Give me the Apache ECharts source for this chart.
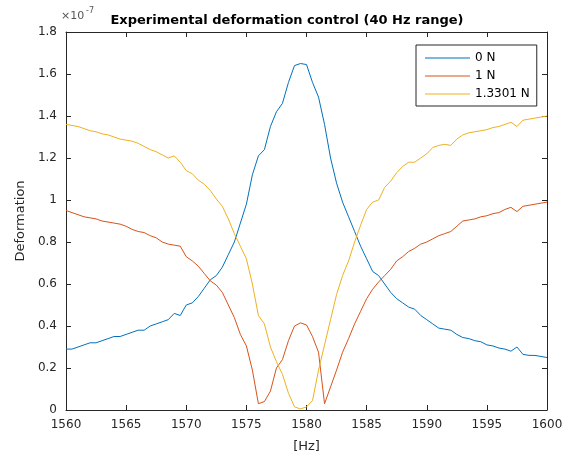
<!DOCTYPE html>
<html>
<head>
<meta charset="utf-8">
<script src="https://cdn.jsdelivr.net/npm/echarts@6/dist/echarts.min.js"></script>
<style>
html,body{margin:0;padding:0;background:#fff;}
#c{width:569px;height:458px;}
</style>
</head>
<body>
<div id="c"></div>
<script>
// Frequency [Hz], 0.5 Hz steps
const freq = [];
for (let k = 0; k <= 80; k++) freq.push(1560 + k * 0.5);

// Deformation values (x 1e-7)
const n0 = [0.29,0.29,0.30,0.31,0.32,0.32,0.33,0.34,0.35,0.35,
  0.36,0.37,0.38,0.38,0.40,0.41,0.42,0.43,0.46,0.45,
  0.50,0.51,0.54,0.58,0.62,0.64,0.68,0.74,0.80,0.89,
  0.98,1.12,1.21,1.24,1.35,1.42,1.46,1.56,1.64,1.65,
  1.645,1.56,1.49,1.36,1.20,1.08,0.99,0.92,0.85,0.78,
  0.72,0.66,0.64,0.60,0.56,0.53,0.51,0.49,0.48,0.45,
  0.43,0.41,0.39,0.385,0.38,0.36,0.345,0.34,0.33,0.325,
  0.31,0.305,0.295,0.29,0.28,0.30,0.265,0.26,0.26,0.255,0.25];

const n1 = [0.95,0.94,0.93,0.92,0.915,0.91,0.90,0.895,0.89,0.885,
  0.875,0.86,0.85,0.845,0.83,0.82,0.80,0.79,0.785,0.78,
  0.73,0.71,0.685,0.65,0.615,0.595,0.56,0.50,0.44,0.36,
  0.305,0.19,0.03,0.04,0.09,0.20,0.24,0.33,0.40,0.415,
  0.405,0.35,0.275,0.03,0.11,0.19,0.275,0.34,0.41,0.47,
  0.53,0.575,0.61,0.64,0.67,0.71,0.73,0.755,0.77,0.79,
  0.80,0.815,0.83,0.84,0.85,0.875,0.90,0.905,0.91,0.92,
  0.925,0.935,0.94,0.955,0.965,0.945,0.97,0.975,0.98,0.985,0.99];

const n13 = [1.36,1.355,1.35,1.34,1.33,1.325,1.315,1.31,1.30,1.29,
  1.285,1.28,1.27,1.255,1.24,1.23,1.215,1.20,1.21,1.18,
  1.14,1.125,1.095,1.075,1.045,1.005,0.97,0.91,0.84,0.78,
  0.72,0.60,0.45,0.41,0.30,0.23,0.17,0.08,0.015,0.005,
  0.015,0.045,0.19,0.31,0.43,0.55,0.64,0.71,0.80,0.88,
  0.955,0.99,1.00,1.06,1.09,1.13,1.16,1.18,1.18,1.20,
  1.22,1.25,1.26,1.265,1.26,1.29,1.31,1.32,1.325,1.33,
  1.335,1.345,1.35,1.36,1.37,1.35,1.38,1.385,1.39,1.395,1.40];

const seriesNames = ['0 N', '1 N', '1.3301 N'];
const seriesColors = ['#0072BD', '#D95319', '#EDB120'];
const seriesValues = [n0, n1, n13];

const font = '"DejaVu Sans", Arial, sans-serif';
const axisColor = '#262626';

const chart = echarts.init(document.getElementById('c'), null, {renderer: 'canvas'});

const baseX = {
  type: 'value', min: 1560, max: 1600, interval: 5,
  axisLine: {show: true, onZero: false, lineStyle: {color: axisColor, width: 1}},
  axisTick: {show: true, inside: true, length: 5, lineStyle: {color: axisColor}},
  splitLine: {show: false}
};
const baseY = {
  type: 'value', min: 0, max: 1.8, interval: 0.2,
  axisLine: {show: true, onZero: false, lineStyle: {color: axisColor, width: 1}},
  axisTick: {show: true, inside: true, length: 5, lineStyle: {color: axisColor}},
  splitLine: {show: false}
};

const lineIcon = 'path://M0,0 L45,0 L45,1.2 L0,1.2 Z';

const option = {
  backgroundColor: '#ffffff',
  animation: false,
  grid: {left: 66, right: 22, top: 32, bottom: 47, containLabel: false},
  title: {
    text: 'Experimental deformation control (40 Hz range)',
    left: 282, top: 9, textAlign: 'center',
    textStyle: {fontFamily: font, fontSize: 13, fontWeight: 'bold', color: '#000'}
  },
  legend: {
    orient: 'vertical', left: 416, top: 45,
    data: seriesNames.map(n => ({name: n, icon: lineIcon})),
    itemWidth: 45, itemHeight: 14, itemGap: 6,
    symbolKeepAspect: true,
    padding: [7, 7, 6, 9],
    borderColor: axisColor, borderWidth: 1, backgroundColor: '#fff',
    textStyle: {fontFamily: font, fontSize: 12, color: '#000'}
  },
  xAxis: [
    Object.assign({}, baseX, {
      position: 'bottom',
      name: '[Hz]', nameLocation: 'middle', nameGap: 30,
      nameTextStyle: {fontFamily: font, fontSize: 13, color: axisColor},
      axisLabel: {show: true, fontFamily: font, fontSize: 12, color: axisColor, margin: 9,
        formatter: v => String(v)}
    }),
    Object.assign({}, baseX, {position: 'top', axisLabel: {show: false}})
  ],
  yAxis: [
    Object.assign({}, baseY, {
      position: 'left',
      name: 'Deformation', nameLocation: 'middle', nameGap: 32,
      nameTextStyle: {fontFamily: font, fontSize: 13, color: axisColor},
      axisLabel: {show: true, fontFamily: font, fontSize: 12, color: axisColor, margin: 9,
        formatter: v => String(Math.round(v * 10) / 10)}
    }),
    Object.assign({}, baseY, {position: 'right', axisLabel: {show: false}})
  ],
  graphic: [
    {type: 'text', left: 61, top: 11, style: {text: '×10', fontFamily: font, fontSize: 11, fill: '#555'}},
    {type: 'text', left: 86, top: 7, style: {text: '-7', fontFamily: font, fontSize: 8, fill: '#555'}}
  ],
  series: seriesNames.map((name, i) => ({
    name: name,
    type: 'line',
    xAxisIndex: 0, yAxisIndex: 0,
    symbol: 'none',
    smooth: false,
    color: seriesColors[i],
    lineStyle: {width: 1, color: seriesColors[i]},
    data: freq.map((f, k) => [f, seriesValues[i][k]])
  }))
};
chart.setOption(option);
</script>
</body>
</html>
